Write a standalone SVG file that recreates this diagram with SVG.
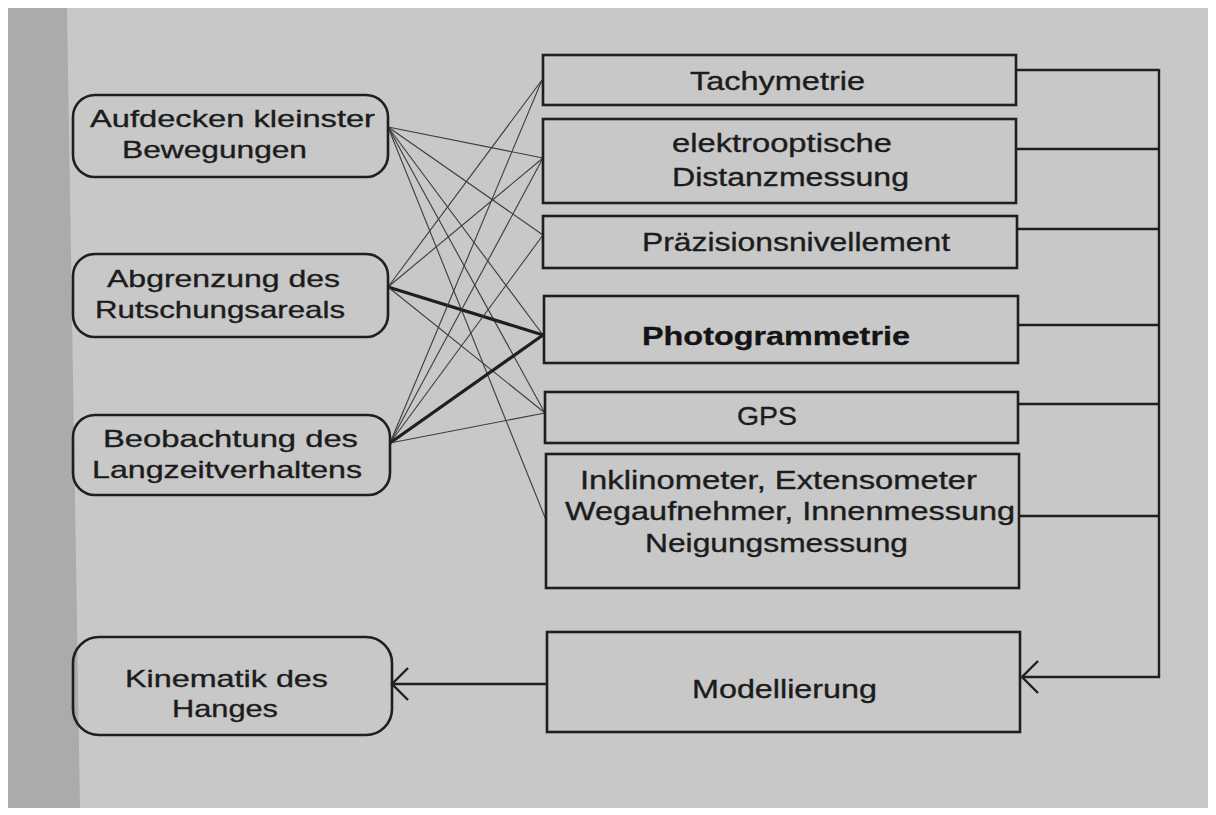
<svg xmlns="http://www.w3.org/2000/svg" width="1216" height="815" viewBox="0 0 1216 815">
<defs>
<style>
.box{fill:none;stroke:#1f1f1f;stroke-width:2.6}
.t{font-family:"Liberation Sans",Arial,sans-serif;font-size:24px;fill:#1c1c1c;stroke:#1c1c1c;stroke-width:0.35}
.tr{font-family:"Liberation Sans",Arial,sans-serif;font-size:25px;fill:#1c1c1c;stroke:#1c1c1c;stroke-width:0.35}
.tb{font-family:"Liberation Sans",Arial,sans-serif;font-size:26px;font-weight:bold;fill:#141414;stroke:#141414;stroke-width:0.3}
.thin{stroke:#3c3c3c;stroke-width:1.1;fill:none}
.thick{stroke:#1f1f1f;stroke-width:3.2;fill:none}
.bus{stroke:#1f1f1f;stroke-width:2.4;fill:none}
</style>
<marker id="chev" viewBox="-19 -19 21 38" refX="0" refY="0" markerWidth="21" markerHeight="38" markerUnits="userSpaceOnUse" orient="auto">
<path d="M-16,-16 L0,0 L-16,16" fill="none" stroke="#1f1f1f" stroke-width="2.4"/>
</marker>
</defs>
<rect x="0" y="0" width="1216" height="815" fill="#ffffff"/>
<rect x="8" y="8" width="1200" height="800" fill="#c8c8c8"/>
<polygon points="8,8 67,8 80,808 8,808" fill="#ababab"/>

<g id="connectors">
<line class="thin" x1="388" y1="127" x2="543" y2="158"/>
<line class="thin" x1="388" y1="127" x2="543" y2="235"/>
<line class="thin" x1="388" y1="127" x2="543" y2="335"/>
<line class="thin" x1="388" y1="127" x2="545" y2="413"/>
<line class="thin" x1="388" y1="127" x2="546" y2="520"/>
<line class="thin" x1="388" y1="287" x2="542" y2="80"/>
<line class="thin" x1="388" y1="287" x2="543" y2="158"/>
<line class="thick" x1="388" y1="287" x2="543" y2="335"/>
<line class="thin" x1="388" y1="287" x2="545" y2="413"/>
<line class="thin" x1="390" y1="443" x2="542" y2="80"/>
<line class="thin" x1="390" y1="443" x2="543" y2="158"/>
<line class="thin" x1="390" y1="443" x2="543" y2="235"/>
<line class="thick" x1="390" y1="443" x2="543" y2="335"/>
<line class="thin" x1="390" y1="443" x2="545" y2="413"/>
<path class="bus" d="M1016,70 H1159 M1016,149 H1159 M1017,229 H1159 M1018,325 H1159 M1018,404 H1159 M1019,516 H1159"/>
<path class="bus" d="M1159,69 V677 H1022" marker-end="url(#chev)"/>
<path class="bus" d="M547,684 H392" marker-end="url(#chev)"/>
</g>

<g id="n-aufdecken">
<rect class="box" x="73" y="95" width="315" height="82" rx="22"/>
<text class="t" x="90" y="127" textLength="285" lengthAdjust="spacingAndGlyphs">Aufdecken kleinster</text>
<text class="t" x="122" y="158" textLength="185" lengthAdjust="spacingAndGlyphs">Bewegungen</text>
</g>
<g id="n-abgrenzung">
<rect class="box" x="73" y="254" width="315" height="83" rx="22"/>
<text class="t" x="107" y="287" textLength="233" lengthAdjust="spacingAndGlyphs">Abgrenzung des</text>
<text class="t" x="95" y="318" textLength="250" lengthAdjust="spacingAndGlyphs">Rutschungsareals</text>
</g>
<g id="n-beobachtung">
<rect class="box" x="73" y="415" width="317" height="80" rx="22"/>
<text class="t" x="103" y="447" textLength="255" lengthAdjust="spacingAndGlyphs">Beobachtung des</text>
<text class="t" x="92" y="478" textLength="270" lengthAdjust="spacingAndGlyphs">Langzeitverhaltens</text>
</g>
<g id="n-kinematik">
<rect class="box" x="73" y="637" width="319" height="98" rx="26"/>
<text class="t" x="125" y="687" textLength="203" lengthAdjust="spacingAndGlyphs">Kinematik des</text>
<text class="t" x="172" y="717" textLength="106" lengthAdjust="spacingAndGlyphs">Hanges</text>
</g>

<g id="n-tachymetrie">
<rect class="box" x="543" y="55" width="473" height="50"/>
<text class="tr" x="690" y="90" textLength="175" lengthAdjust="spacingAndGlyphs">Tachymetrie</text>
</g>
<g id="n-elektro">
<rect class="box" x="543" y="119" width="473" height="84"/>
<text class="tr" x="672" y="152" textLength="220" lengthAdjust="spacingAndGlyphs">elektrooptische</text>
<text class="tr" x="672" y="186" textLength="237" lengthAdjust="spacingAndGlyphs">Distanzmessung</text>
</g>
<g id="n-praezision">
<rect class="box" x="543" y="216" width="474" height="52"/>
<text class="tr" x="642" y="251" textLength="308" lengthAdjust="spacingAndGlyphs">Präzisionsnivellement</text>
</g>
<g id="n-photo">
<rect class="box" x="544" y="296" width="474" height="67"/>
<text class="tb" x="642" y="345" textLength="268" lengthAdjust="spacingAndGlyphs">Photogrammetrie</text>
</g>
<g id="n-gps">
<rect class="box" x="545" y="392" width="473" height="51"/>
<text class="tr" x="737" y="425" textLength="60" lengthAdjust="spacingAndGlyphs">GPS</text>
</g>
<g id="n-inklinometer">
<rect class="box" x="546" y="454" width="473" height="134"/>
<text class="tr" x="580" y="489" textLength="397" lengthAdjust="spacingAndGlyphs">Inklinometer, Extensometer</text>
<text class="tr" x="565" y="520" textLength="450" lengthAdjust="spacingAndGlyphs">Wegaufnehmer, Innenmessung</text>
<text class="tr" x="645" y="552" textLength="263" lengthAdjust="spacingAndGlyphs">Neigungsmessung</text>
</g>
<g id="n-modellierung">
<rect class="box" x="547" y="632" width="473" height="100"/>
<text class="tr" x="692" y="698" textLength="185" lengthAdjust="spacingAndGlyphs">Modellierung</text>
</g>
</svg>
